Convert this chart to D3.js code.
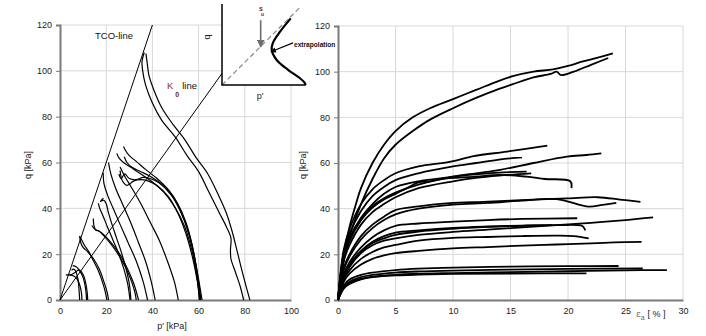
<!DOCTYPE html>
<html><head><meta charset="utf-8">
<script src="https://cdn.jsdelivr.net/npm/d3@7"></script>
<style>body{margin:0;background:#fff} text{font-family:"Liberation Sans",Arial,sans-serif}</style>
</head><body><svg id="c" width="706" height="336"></svg>
<script>
// ---------- data ----------
const qTicks = [0, 20, 40, 60, 80, 100, 120];
const pTicks = [0, 20, 40, 60, 80, 100];
const eTicks = [0, 5, 10, 15, 20, 25, 30];
const tcoLine = [[0, 0], [40, 120]];
const k0Line = [[0, 0], [72, 101.5]];

// stress paths (p' , q) in kPa
const stressPaths = [
  [[36.5,108],[35.5,104],[35.8,100],[37,94],[40,86],[44,78.5],[50,71],[55,63],[60,56],[64.5,47],[69,38],[72,32],[74,27],[73.8,22],[74,18],[76,12],[78,6],[79.5,0]],
  [[37.2,107.5],[37.8,103],[38.5,98],[40.5,92],[44,84],[49,76.5],[54,70],[59,62],[64,55],[68.5,46],[72,38],[74.5,30],[77,20],[79.5,10],[82.2,0]],
  [[27.5,67],[28.5,65],[30,63],[33,60.5],[37,57],[42,53],[47,48],[51,42],[54.5,34],[57,25],[58.8,15],[59.8,6],[60.3,0]],
  [[24.6,64],[25.5,62],[27.5,60],[30.5,58],[35,55],[40,51.5],[45,47],[50,40],[54,32],[57,22],[59,12],[60.5,0]],
  [[27.8,62.5],[29,60],[31,58],[35,56],[39,54],[44,50.5],[49,45],[53,37],[56,28],[58.5,17],[60,8],[61,0]],
  [[25.5,55],[26.5,53],[28,55],[30,53],[33,52.5],[36,53.5],[39,53],[43,51],[48,46],[52,39],[55.5,30],[58,20],[60,9],[61.5,0]],
  [[26,56.5],[27,52],[29,50],[32,52],[35,52.5],[38,52],[42,50],[47,45],[51,38],[54.5,29],[57.5,18],[59.5,8],[60.8,0]],
  [[26,58],[28,54],[31,49],[35,42],[39,34],[43,26],[46.5,17],[49.5,8],[51.2,0]],
  [[21,60],[22,55],[24,49],[27,42],[30.5,34],[34,25],[37,17],[39.5,8],[41.2,0]],
  [[18.7,55.5],[19,51],[20.5,46],[23,40],[26,33],[29.5,25],[33,17],[36,8],[37.9,0]],
  [[13.8,32.5],[15,31],[17,30],[19.5,28],[23,24],[26.5,19],[29.5,13],[32,7],[34,0]],
  [[14.4,35.6],[14.8,32],[15.5,30.5],[17,30],[19,28],[22,24.5],[25.5,19.5],[28.5,14],[31,8],[32.5,3],[33,0]],
  [[18.8,44.4],[17.5,43],[19,43.5],[20,42],[21,38],[22.5,33],[24.5,27],[26.5,21],[28.5,14],[30,7],[30.7,0]],
  [[16.6,42.2],[17.2,40],[18.5,37],[20.5,32],[23,26],[25.5,20],[27.5,14],[29.3,7],[30.3,0]],
  [[8.7,27.6],[9.5,26],[10.5,24],[12.5,21],[14.5,17],[16.5,13],[18,9],[19.5,4],[20.3,0]],
  [[8.5,28],[9,25],[10,23],[12,21],[14.5,18],[17,13.5],[19,8],[20.5,3],[21,0]],
  [[5.5,15],[7,14.5],[8.5,13],[9.5,12],[10.5,10],[11.2,7],[11.8,3],[12,0]],
  [[2.5,11],[4.5,11],[6.5,12],[8,13],[9.5,11],[10.5,8],[11.2,4],[11.5,0]],
  [[5,13],[6,13.5],[7,12],[7.8,9],[8.2,5],[8.4,2],[8.5,0]],
  [[4,11],[6,10.5],[7.5,9],[8.7,6],[9.3,3],[9.5,0]]
];

// strain curves (eps_a %, q kPa)
const strainCurves = [
  [[0,0],[0.2,10],[0.5,20],[1,32],[1.5,41],[2,49],[3,60],[4,68],[5,74],[6.5,80],[8,84],[10,88],[12,92],[14,96],[15.2,98],[17,100],[18.7,101],[20,102.5],[21.3,104.5],[22.5,106],[23.9,108]],
  [[0,0],[0.3,10],[0.6,20],[1.2,31],[2,42],[3,53],[4,62],[5,68],[6.5,74],[8,79],[10,84],[12,88.5],[14,92.5],[15.2,94.5],[17,97.5],[18.5,99],[19,100],[19.4,98.5],[20.5,100],[22,103],[23,105],[23.5,106]],
  [[0,0],[0.5,22],[1,31],[2,42],[3,48.5],[4,52.5],[5,55.5],[7,58.5],[9.7,60.5],[11.8,63],[14.7,65],[18.2,67.6]],
  [[0,0],[0.5,21],[1,29],[2,39],[3,45.5],[4,49.5],[5,52.5],[7,55.5],[10,58.5],[12,60],[14,61.5],[16,62.5]],
  [[0,0],[0.5,18],[1,26],[2,35],[3,41],[4,44.5],[5,47],[7,50.5],[10,54],[12,55.5],[14.1,57],[17,60],[19.9,62.8],[21.6,63.5],[22.9,64.2]],
  [[0,0],[0.5,19],[1,27],[2,36],[3,42],[4,46.5],[5,49.5],[7,52],[10,54],[12,55],[14,55.8],[16.4,56.2]],
  [[0,0],[0.5,17],[1,24],[2,33],[3,38.5],[4,42],[5,45],[7,49],[10,52],[12,53.5],[14,54.5],[16.8,55.5]],
  [[0,0],[0.5,18],[1,26],[2,35],[3,40.5],[4,44],[5,46.5],[6,49],[7,51.5],[8,52],[9,53],[12,54],[14,54.8],[16.4,54],[18,53],[20.2,52],[20.3,49]],
  [[0,0],[0.5,14],[1,20],[2,28],[3,33],[4,36.5],[5,39.4],[7,41],[9.7,42.4],[12.6,43],[15,43.5],[17,44],[19.9,44.5],[22.6,45],[24.5,44],[26.3,43]],
  [[0,0],[0.5,13],[1,19],[2,26.5],[3,31.5],[4,35],[5,37.5],[7,40],[10,41.8],[13,42.5],[16,43.5],[19,44.2],[21.8,40.9],[23,41.7],[24.2,42.5]],
  [[0,0],[0.5,11],[1,16.5],[2,23],[3,27.5],[4,30.5],[5,32.5],[7,33.5],[10,34.3],[13,35],[16,35.5],[20.8,35.8]],
  [[0,0],[0.5,9.5],[1,14.5],[2,20.5],[3,24],[4,26],[5,27],[7,28.5],[10,29.8],[13,30.8],[16,31.8],[19,32.8],[22,33.8],[25,35],[27.4,36.2]],
  [[0,0],[0.5,10],[1,15],[2,21],[3,25],[4,27],[5,28.5],[7,30],[10,31.2],[13,32],[16,32.5],[18.6,32.8]],
  [[0,0],[0.5,10.5],[1,15.5],[2,21.5],[3,25.5],[4,28],[5,29.5],[7,30.5],[10,31.6],[13,32.2],[16,32.6],[19,32.8],[21.2,32.5],[21.4,31.5],[21.5,30.5]],
  [[0,0],[0.5,9],[1,13],[2,18],[3,21],[4,23],[5,24.1],[7,26],[10,27.2],[13,27.6],[16,28],[19,28.2],[20.5,28],[21.8,27]],
  [[0,0],[0.5,8],[1,11.5],[2,15.5],[3,18],[4,19.5],[5,20.5],[7,21.5],[10,22.6],[13,23.2],[16,23.8],[19,24.3],[22,24.8],[24,25.2],[26.4,25.5]],
  [[0,0],[0.5,6.5],[1,9],[2,11],[3,12],[5,13.1],[7,13.7],[10,14.2],[15,14.6],[20,14.8],[24.4,14.9]],
  [[0,0],[0.5,5],[1,7],[2,9],[3,10],[5,11],[7,11.5],[10,11.8],[15,12.2],[20,12.6],[25,13],[28.6,13.1]],
  [[0,0],[0.5,5.5],[1,7.5],[2,9.3],[3,10.2],[5,10.8],[7,11.1],[10,11.4],[15,11.6],[21.6,11.7]],
  [[0,0],[0.5,6],[1,8],[2,10],[3,11],[5,12],[7,12.5],[10,12.9],[15,13.3],[20,13.6],[26.5,13.8]]
];

// inset schematic (normalised units 0..1)
const insetCurve = [[0.828,0.823],[0.699,0.658],[0.611,0.515],[0.599,0.432],[0.659,0.309],[0.799,0.185],[0.94,0.083],[1.0,0.021],[1.006,0]];
const insetDiag = [[0,0],[0.94,0.96]];
const suArrow = [[0.466,0.80],[0.466,0.47]];
const extrapArrow = [[0.855,0.52],[0.59,0.41]];

// ---------- drawing ----------
const svg = d3.select("#c");
const defs = svg.append("defs");
defs.append("marker").attr("id","ahG").attr("viewBox","0 0 10 10").attr("refX",9).attr("refY",5)
  .attr("markerWidth",5).attr("markerHeight",5).attr("orient","auto")
  .append("path").attr("d","M0,0L10,5L0,10z").attr("fill","#6e6e6e");
defs.append("marker").attr("id","ahK").attr("viewBox","0 0 10 10").attr("refX",9).attr("refY",5)
  .attr("markerWidth",5).attr("markerHeight",5).attr("orient","auto")
  .append("path").attr("d","M0,0L10,5L0,10z").attr("fill","#000");

function panel(x, y, xt, yt) {
  const g = svg.append("g");
  g.selectAll(".gv").data(xt.slice(1)).join("line")
    .attr("x1",d=>x(d)).attr("x2",d=>x(d)).attr("y1",y(0)).attr("y2",y(120))
    .attr("stroke","#d8d8d8").attr("stroke-width",1);
  g.selectAll(".gh").data(yt.slice(1)).join("line")
    .attr("x1",x(0)).attr("x2",x(xt[xt.length-1])).attr("y1",d=>y(d)).attr("y2",d=>y(d))
    .attr("stroke","#d8d8d8").attr("stroke-width",1);
  const ya = g.append("g").attr("transform",`translate(${x(0)},0)`)
    .call(d3.axisLeft(y).tickValues(yt).tickSize(4).tickPadding(4));
  const xa = g.append("g").attr("transform",`translate(0,${y(0)})`)
    .call(d3.axisBottom(x).tickValues(xt).tickSize(0).tickPadding(8));
  [ya, xa].forEach(a => {
    a.select(".domain").attr("stroke","#7a7a7a").attr("stroke-width",2);
    a.selectAll(".tick line").attr("stroke","#7a7a7a");
    a.selectAll("text").attr("font-size",9).attr("fill","#222")
      .style("font-family","'Liberation Sans',Arial,sans-serif");
  });
  return g;
}

// left panel
const xL = d3.scaleLinear().domain([0,100]).range([60,291]);
const yL = d3.scaleLinear().domain([0,120]).range([300,25]);
const gL = panel(xL, yL, pTicks, qTicks);
const lineL = d3.line().x(d=>xL(d[0])).y(d=>yL(d[1]));
gL.append("path").attr("d",lineL(tcoLine)).attr("stroke","#000").attr("stroke-width",1).attr("fill","none");
gL.append("path").attr("d",lineL(k0Line)).attr("stroke","#000").attr("stroke-width",1).attr("fill","none");
const lineLs = d3.line().x(d=>xL(d[0])).y(d=>yL(d[1])).curve(d3.curveCatmullRom.alpha(0.5));
gL.selectAll(".sp").data(stressPaths).join("path").attr("d",lineLs)
  .attr("stroke","#000").attr("stroke-width",1.2).attr("fill","none");

gL.append("text").attr("x",114).attr("y",39).attr("text-anchor","middle").attr("font-size",9.5).attr("fill","#111").text("TCO-line");
const k0t = gL.append("text").attr("x",167).attr("y",89).attr("font-size",9.5).attr("fill","#111");
k0t.append("tspan").attr("fill","#8e2c16").text("K");
k0t.append("tspan").attr("dx",2).attr("dy",8).attr("font-size",7).attr("font-weight","bold").attr("fill","#6e2410").text("0");
k0t.append("tspan").attr("dx",3).attr("dy",-8).text("line");
gL.append("text").attr("transform","translate(31,165) rotate(-90)").attr("text-anchor","middle")
  .attr("font-size",9).attr("fill","#222").text("q [kPa]");
gL.append("text").attr("x",172).attr("y",329).attr("text-anchor","middle")
  .attr("font-size",9).attr("fill","#222").text("p' [kPa]");

// right panel
const xR = d3.scaleLinear().domain([0,30]).range([338,683]);
const yR = d3.scaleLinear().domain([0,120]).range([300,26]);
const gR = panel(xR, yR, eTicks, qTicks);
const lineR = d3.line().x(d=>xR(d[0])).y(d=>yR(d[1])).curve(d3.curveCatmullRom.alpha(0.5));
gR.selectAll(".sc").data(strainCurves).join("path").attr("d",lineR)
  .attr("stroke","#000").attr("stroke-width",1.8).attr("fill","none");
gR.append("text").attr("transform","translate(306,165) rotate(-90)").attr("text-anchor","middle")
  .attr("font-size",9).attr("fill","#222").text("q [kPa]");
const et = gR.append("text").attr("x",636).attr("y",317).attr("font-size",9).attr("fill","#222");
et.append("tspan").attr("fill","#666").attr("font-family","'DejaVu Serif',serif").text("ε");
et.append("tspan").attr("dy",2.5).attr("font-size",7).attr("fill","#666").text("a");
et.append("tspan").attr("dy",-2.5).attr("dx",3).text("[ % ]");

// inset
const ix = d3.scaleLinear().domain([0,1]).range([222,305]);
const iy = d3.scaleLinear().domain([0,1]).range([85,4]);
const gI = svg.append("g");
gI.append("rect").attr("x",ix(0)).attr("y",0).attr("width",ix(1.06)-ix(0)).attr("height",iy(0)).attr("fill","#fff");
const lineI = d3.line().x(d=>ix(d[0])).y(d=>iy(d[1]));
gI.append("path").attr("d",lineI(insetDiag)).attr("stroke","#888").attr("stroke-width",1.2)
  .attr("stroke-dasharray","5,3").attr("fill","none");
gI.append("path").attr("d",lineI([[0,1],[0,0],[1.01,0]])).attr("stroke","#000").attr("stroke-width",1.5).attr("fill","none");
gI.append("path").attr("d",d3.line().x(d=>ix(d[0])).y(d=>iy(d[1])).curve(d3.curveCatmullRom.alpha(0.5))(insetCurve))
  .attr("stroke","#000").attr("stroke-width",2.2).attr("fill","none");
gI.append("path").attr("d",lineI(suArrow)).attr("stroke","#6e6e6e").attr("stroke-width",1.6)
  .attr("marker-end","url(#ahG)").attr("fill","none");
gI.append("path").attr("d",lineI(extrapArrow)).attr("stroke","#000").attr("stroke-width",1.1)
  .attr("marker-end","url(#ahK)").attr("fill","none");
gI.append("text").attr("x",ix(0.445)).attr("y",11).attr("font-size",7).attr("font-weight","bold").attr("fill","#8a2a12").text("s");
gI.append("text").attr("x",ix(0.47)).attr("y",15.5).attr("font-size",5).attr("font-weight","bold").attr("fill","#8a2a12").text("u");
gI.append("text").attr("x",294).attr("y",47).attr("font-size",6.6).attr("font-weight","bold").attr("fill","#111").text("extrapolation");
gI.append("text").attr("transform","translate(210,37) rotate(-90)").attr("text-anchor","middle").attr("font-size",9).attr("fill","#222").text("q");
gI.append("text").attr("x",ix(0.46)).attr("y",99).attr("text-anchor","middle").attr("font-size",9).attr("fill","#222").text("p'");
</script></body></html>
